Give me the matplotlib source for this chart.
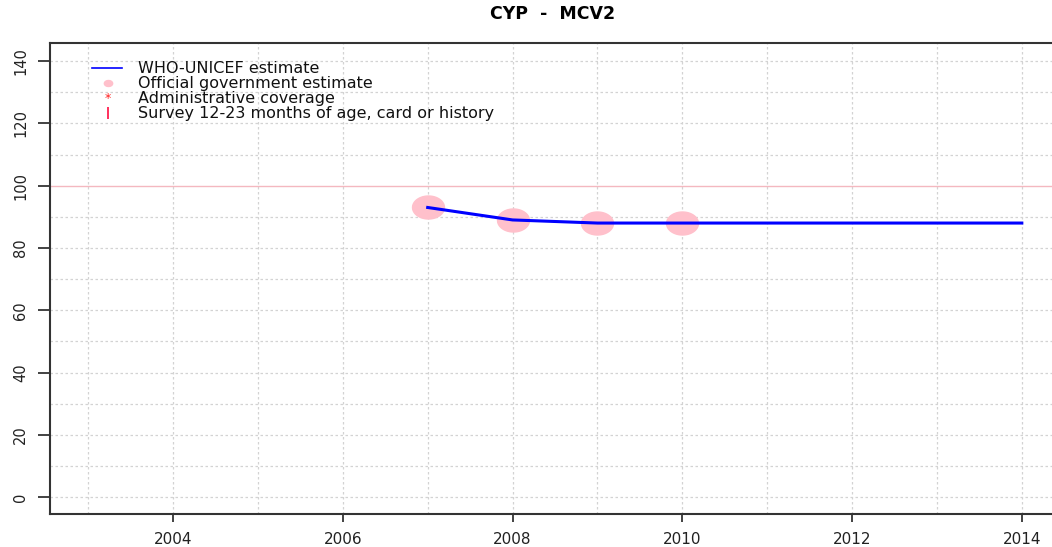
import matplotlib
matplotlib.use("Agg")
import matplotlib.pyplot as plt
import numpy as np
from matplotlib.path import Path

title = "CYP  -  MCV2"
wuenic_years = [2007, 2008, 2009, 2010, 2011, 2012, 2013, 2014]
wuenic_values = [93, 89, 88, 88, 88, 88, 88, 88]
gov_years = [2007, 2008, 2009, 2010]
gov_values = [93, 89, 88, 88]
xticks = [2004, 2006, 2008, 2010, 2012, 2014]
yticks = [0, 20, 40, 60, 80, 100, 120, 140]
legend_labels = ["WHO-UNICEF estimate", "Official government estimate",
                 "Administrative coverage", "Survey 12-23 months of age, card or history"]

plt.rcParams['font.family'] = ['DejaVu Sans']

W, H = 1052, 547
fig = plt.figure(figsize=(W/100, H/100), dpi=100)
L, R, T, B = 50, 1060, 43, 514
ax = fig.add_axes([L/W, (H-B)/H, (R-L)/W, (B-T)/H])

ax.set_xlim(2002.55, 2014.45)
ax.set_ylim(-5.4, 145.8)

# grid
for yr in range(2003, 2015):
    ax.axvline(yr, color="#d3d3d3", lw=0.9, ls=(0, (2, 2)), zorder=0)
for v in range(0, 150, 10):
    if v == 100:
        continue
    ax.axhline(v, color="#d3d3d3", lw=0.9, ls=(0, (2, 2)), zorder=0)
ax.axhline(100, color="#f4b8c0", lw=1.0, zorder=0)

# ellipse marker
t = np.linspace(0, 2*np.pi, 60)
ell = Path(np.column_stack([np.cos(t), 0.72*np.sin(t)]), closed=True)
ax.plot(gov_years, gov_values, ls="none", marker=ell, markersize=23,
        markerfacecolor="#ffc0cb", markeredgecolor="#ffc0cb", zorder=2)
ax.plot(wuenic_years, wuenic_values, color="#0000ff", lw=2.2, zorder=3)

ax.set_xticks(xticks)
ax.set_xticklabels([str(x) for x in xticks], fontsize=11, color="#222222")
ax.set_yticks(yticks)
ax.set_yticklabels([str(y) for y in yticks], fontsize=10.5, rotation=90,
                   va="center", color="#222222")
ax.tick_params(axis="x", length=6, width=1.2, color="#222222", pad=7)
ax.tick_params(axis="y", length=8.6, width=1.2, color="#222222", pad=7)
for s in ["left", "bottom", "top"]:
    ax.spines[s].set_color("#333333")
    ax.spines[s].set_linewidth(1.5)
ax.spines["right"].set_visible(False)

fig.text(553/W, 1 - 14/H, title, ha="center", va="center", fontsize=12.5,
         fontweight="bold")

# legend (drawn in axes-fraction coordinates)
def ax_x(px):
    return (px - L) / (R - L)

def ax_y(py):
    return (B - py) / (B - T)

rows = [68, 83, 98, 113]
tr = ax.transAxes
ax.plot([ax_x(92), ax_x(122)], [ax_y(rows[0])]*2, color="#0000ff", lw=1.2,
        transform=tr, clip_on=False)
ax.plot([ax_x(108)], [ax_y(rows[1])], ls="none", marker=ell, markersize=6,
        markerfacecolor="#ffc0cb", markeredgecolor="#ffc0cb", transform=tr)
ax.text(ax_x(108), ax_y(rows[2]), "*", color="#ff2020", fontsize=9,
        ha="center", va="center", transform=tr)
ax.plot([ax_x(108)], [ax_y(rows[3])], ls="none", marker="|", markersize=9,
        markeredgecolor="#ff2050", markeredgewidth=1.3, transform=tr)
for lab, ry in zip(legend_labels, rows):
    ax.text(ax_x(138), ax_y(ry), lab, fontsize=11.5, color="#111111",
            ha="left", va="center", transform=tr)

fig.savefig("out.png", dpi=100, facecolor="white")
